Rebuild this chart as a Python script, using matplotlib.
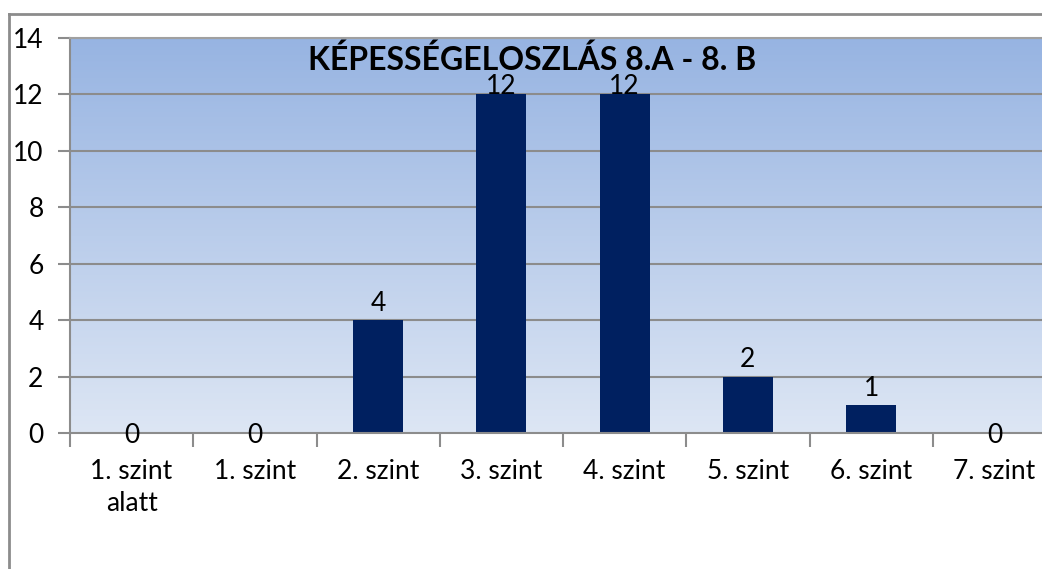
import numpy as np
import matplotlib
matplotlib.use("Agg")
import matplotlib.pyplot as plt
from matplotlib.lines import Line2D
from matplotlib.colors import LinearSegmentedColormap

categories = ["1. szint\nalatt", "1. szint", "2. szint", "3. szint", "4. szint",
              "5. szint", "6. szint", "7. szint"]
values = [0, 0, 4, 12, 12, 2, 1, 0]
yticks = [0, 2, 4, 6, 8, 10, 12, 14]
title = "KÉPESSÉGELOSZLÁS 8.A - 8. B"

plt.rcParams['font.family'] = ['Lato', 'DejaVu Sans']

W, H = 1042, 569
fig = plt.figure(figsize=(W / 100, H / 100), dpi=100)
fig.patch.set_facecolor('white')

# outer chart border (partially visible)
fig.add_artist(Line2D([9 / W, 9 / W], [0, 1 - 14 / H], color='#8c8c8c', lw=2, transform=fig.transFigure))
fig.add_artist(Line2D([9 / W, 1], [1 - 14 / H, 1 - 14 / H], color='#8c8c8c', lw=2, transform=fig.transFigure))

left, right, top, bottom = 70, 1056, 38, 433
ax = fig.add_axes([left / W, 1 - bottom / H, (right - left) / W, (bottom - top) / H])

n = len(categories)
ax.set_xlim(0, n)
ax.set_ylim(0, 14)

# gradient background
cmap = LinearSegmentedColormap.from_list('bg', ['#dde6f4', '#97b4e2'])
grad = np.linspace(0, 1, 256).reshape(-1, 1)
ax.imshow(grad, aspect='auto', cmap=cmap, extent=[0, n, 0, 14], origin='lower', zorder=0)

for y in yticks[1:]:
    ax.axhline(y, color='#8c8c8c', lw=1.5, zorder=1)

x = np.arange(n) + 0.5
bars = ax.bar(x, values, width=0.405, color='#002060', zorder=2)

for xi, v in zip(x, values):
    if v == 0:
        off, va = -2, 'center'
    elif v >= 11:
        off, va = -3, 'bottom'
    else:
        off, va = 3, 'bottom'
    ax.annotate(str(v), (xi, v), xytext=(0, off), textcoords='offset points',
                ha='center', va=va, fontsize=19, color='black', zorder=3)

ax.set_yticks(yticks)
ax.set_yticklabels([str(t) for t in yticks], fontsize=19)
ax.set_xticks(np.arange(n + 1))
ax.set_xticklabels([''] * (n + 1))
ax.set_xticks(x, minor=True)
ax.set_xticklabels(categories, minor=True, fontsize=19, linespacing=1.32)
ax.tick_params(axis='x', which='minor', length=0, pad=19)
ax.tick_params(axis='x', which='major', length=10, color='#8c8c8c', width=1.5)
ax.tick_params(axis='y', length=9, color='#8c8c8c', width=1.5, pad=10)

for s in ['top', 'right']:
    ax.spines[s].set_visible(False)
for s in ['left', 'bottom']:
    ax.spines[s].set_color('#8c8c8c')
    ax.spines[s].set_linewidth(1.5)
ax.spines['top'].set_visible(True)
ax.spines['top'].set_color('#a0a0a0')
ax.spines['top'].set_linewidth(1.5)

fig.text(532 / W, 1 - 60 / H, title, ha='center', va='center', fontsize=23, fontweight='bold', color='black')

fig.savefig('out.png', dpi=100, facecolor='white')
